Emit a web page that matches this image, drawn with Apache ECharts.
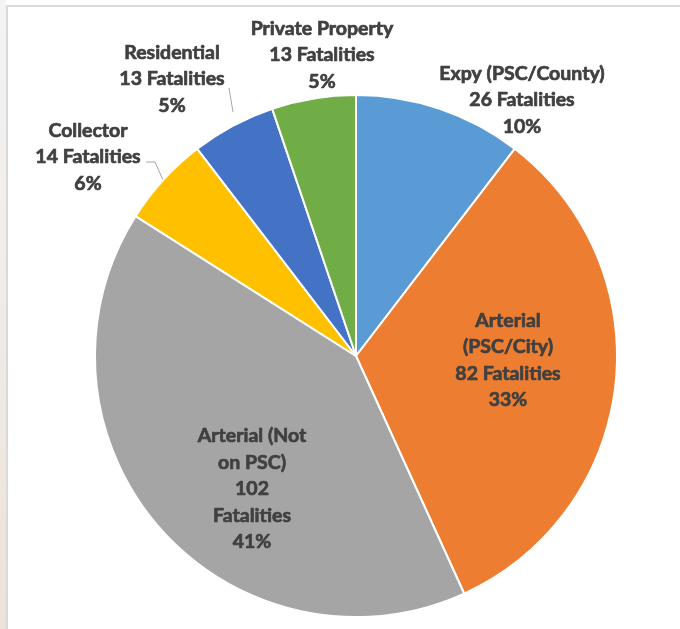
<!DOCTYPE html>
<html>
<head>
<meta charset="utf-8">
<script src="https://cdn.jsdelivr.net/npm/echarts@6/dist/echarts.min.js"></script>
<style>
html,body{margin:0;padding:0;width:680px;height:629px;overflow:hidden;background:#fff;}
#strip{position:absolute;left:0;top:0;width:6px;height:629px;background:linear-gradient(#f4f4f4,#ece2d9);}
#frame{position:absolute;left:6px;top:5px;width:674px;height:624px;border-left:2px solid #d9d9d9;border-top:2px solid #d9d9d9;box-sizing:border-box;background:#fff;}
#chart{position:absolute;left:0;top:0;width:680px;height:629px;}
</style>
</head>
<body>
<div id="strip"></div>
<div id="frame"></div>
<div id="chart"></div>
<script>
const categories = ["Expy (PSC/County)", "Arterial\n(PSC/City)", "Arterial (Not\non PSC)", "Collector", "Residential", "Private Property"];
const fatalities = [26, 82, 102, 14, 13, 13];
const colors = ["#5B9BD5", "#ED7D31", "#A5A5A5", "#FFC000", "#4472C4", "#70AD47"];
const labelPos = [[522, 100], [508, 360], [252, 489], [88, 157], [172, 79], [322, 55]];
const linePts = {3: [[146, 162], [155, 162], [163, 180]], 4: [[229, 88], [233, 112]]};

const total = fatalities.reduce((a, b) => a + b, 0);
const data = categories.map((c, i) => ({
  name: c,
  value: fatalities[i],
  itemStyle: {color: colors[i]},
  labelLine: {show: !!linePts[i]}
}));

const chart = echarts.init(document.getElementById('chart'), null, {renderer: 'canvas'});
chart.setOption({
  animation: false,
  series: [{
    type: 'pie',
    center: [356, 356],
    radius: [0, 261],
    startAngle: 90,
    clockwise: true,
    data: data,
    itemStyle: {borderColor: '#fff', borderWidth: 2},
    label: {
      show: true,
      position: 'outside',
      overflow: 'none',
      color: '#404040',
      textBorderColor: '#404040',
      textBorderWidth: 0.7,
      fontFamily: 'Lato',
      fontWeight: 'bold',
      fontSize: 19.5,
      lineHeight: 26.5,
      align: 'center',
      formatter: function (p) {
        const pct = Math.round(p.value / total * 100);
        const name = p.dataIndex === 2 ? p.name + "\n" + p.value + "\nFatalities" : p.name + "\n" + p.value + " Fatalities";
        return name + "\n" + pct + "%";
      }
    },
    labelLine: {lineStyle: {color: '#a6a6a6', width: 1}, length: 5, length2: 5},
    labelLayout: function (p) {
      const i = p.dataIndex;
      const r = {x: labelPos[i][0], y: labelPos[i][1], align: 'center', verticalAlign: 'middle'};
      if (linePts[i]) r.labelLinePoints = linePts[i];
      return r;
    }
  }]
});
</script>
</body>
</html>
